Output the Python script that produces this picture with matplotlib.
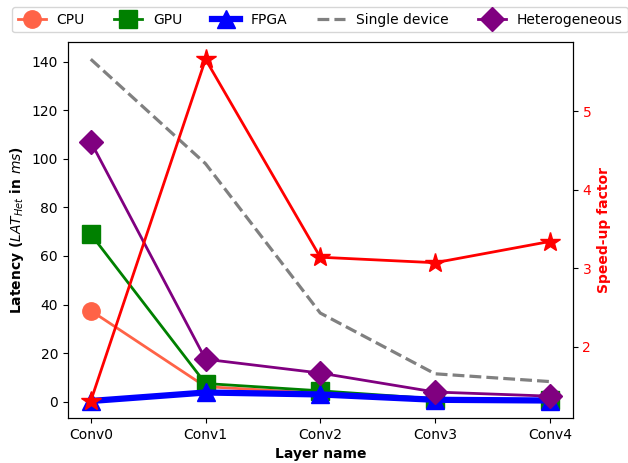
import matplotlib
matplotlib.use("Agg")
import matplotlib.pyplot as plt

layers = ["Conv0", "Conv1", "Conv2", "Conv3", "Conv4"]
cpu = [37.5, 6.2, 3.5, 1.0, 0.5]
gpu = [69.0, 7.5, 4.5, 1.2, 0.8]
fpga = [0.3, 3.8, 3.0, 0.8, 0.5]
single = [141.0, 98.0, 36.5, 11.5, 8.3]
het = [107.0, 17.5, 11.8, 4.0, 2.3]
speedup = [1.31, 5.66, 3.14, 3.07, 3.34]


def main():
    fig, ax = plt.subplots(figsize=(6.28, 4.63), dpi=100)
    fig.subplots_adjust(left=0.108, right=0.912, bottom=0.097, top=0.909)

    x = range(len(layers))
    l1, = ax.plot(x, cpu, color="tomato", marker="o", markersize=12.5, linewidth=2, label="CPU")
    l2, = ax.plot(x, gpu, color="green", marker="s", markersize=12.5, linewidth=2, label="GPU")
    l3, = ax.plot(x, fpga, color="blue", marker="^", markersize=12.5, linewidth=4.5, label="FPGA")
    l4, = ax.plot(x, single, color="gray", linestyle="--", linewidth=2.3, label="Single device")
    l5, = ax.plot(x, het, color="purple", marker="D", markersize=12.5, linewidth=2, label="Heterogeneous")

    ax.set_xticks(list(x))
    ax.set_xticklabels(layers)
    ax.set_xlabel("Layer name", fontweight="bold")
    ax.set_ylabel("Latency ($LAT_{Het}$ in $ms$)", fontweight="bold")

    ax2 = ax.twinx()
    ax2.plot(x, speedup, color="red", marker="*", markersize=15, linewidth=2)
    ax2.set_ylabel("Speed-up factor", color="red", fontweight="bold")
    ax2.tick_params(axis="y", labelcolor="red")

    ax.legend(handles=[l1, l2, l3, l4, l5], loc="lower center",
              bbox_to_anchor=(0.5, 1.0), ncol=5, borderaxespad=0.7,
              columnspacing=2.12)

    plt.savefig("out.png", dpi=100)


if __name__ == "__main__":
    main()
